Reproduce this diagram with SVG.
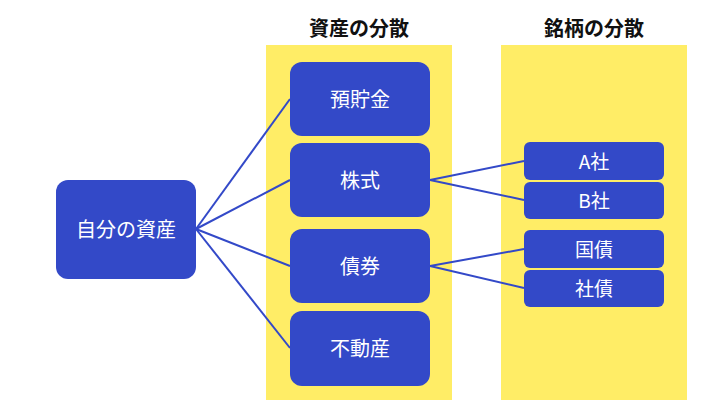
<svg xmlns="http://www.w3.org/2000/svg" width="720" height="405" viewBox="0 0 720 405">
<style>
.panel{fill:#FFED66}
.node{fill:#3349C8}
.lbl{fill:#fff;font-family:"Noto Sans CJK JP","Noto Sans",sans-serif;font-size:20px;text-anchor:middle;dominant-baseline:central}
.small{font-size:19px}
.hdr{fill:#111;font-family:"Noto Sans CJK JP","Noto Sans",sans-serif;font-size:20px;font-weight:bold;text-anchor:middle;dominant-baseline:central}
.conn{stroke:#3349C8;stroke-width:2;fill:none}
</style>
<rect width="720" height="405" fill="#fff"/>
<g id="panels">
<rect class="panel" x="266" y="45" width="186" height="355"/>
<rect class="panel" x="501" y="45" width="186" height="355"/>
<text class="hdr" x="359" y="27">資産の分散</text>
<text class="hdr" x="594" y="27">銘柄の分散</text>
</g>
<g id="connectors">
<line class="conn" x1="196" y1="229" x2="290" y2="99"/>
<line class="conn" x1="196" y1="229" x2="290" y2="180"/>
<line class="conn" x1="196" y1="229" x2="290" y2="266"/>
<line class="conn" x1="196" y1="229" x2="290" y2="348"/>
<line class="conn" x1="430" y1="180" x2="524" y2="161"/>
<line class="conn" x1="430" y1="180" x2="524" y2="200"/>
<line class="conn" x1="430" y1="266" x2="524" y2="249"/>
<line class="conn" x1="430" y1="266" x2="524" y2="288"/>
</g>
<g id="root"><rect class="node" x="56" y="180" width="140" height="99" rx="12"/><text class="lbl" x="126" y="228">自分の資産</text></g>
<g id="yochokin"><rect class="node" x="290" y="62" width="140" height="74" rx="12"/><text class="lbl" x="360" y="98">預貯金</text></g>
<g id="kabushiki"><rect class="node" x="290" y="143" width="140" height="74" rx="12"/><text class="lbl" x="360" y="179">株式</text></g>
<g id="saiken"><rect class="node" x="290" y="229" width="140" height="74" rx="12"/><text class="lbl" x="360" y="265">債券</text></g>
<g id="fudosan"><rect class="node" x="290" y="311" width="140" height="75" rx="12"/><text class="lbl" x="360" y="347">不動産</text></g>
<g id="a-sha"><rect class="node" x="524" y="142" width="140" height="38" rx="6"/><text class="lbl small" x="594" y="160">A社</text></g>
<g id="b-sha"><rect class="node" x="524" y="182" width="140" height="37" rx="6"/><text class="lbl small" x="594" y="199">B社</text></g>
<g id="kokusai"><rect class="node" x="524" y="230" width="140" height="38" rx="6"/><text class="lbl small" x="594" y="248">国債</text></g>
<g id="shasai"><rect class="node" x="524" y="270" width="140" height="37" rx="6"/><text class="lbl small" x="594" y="287">社債</text></g>
</svg>
